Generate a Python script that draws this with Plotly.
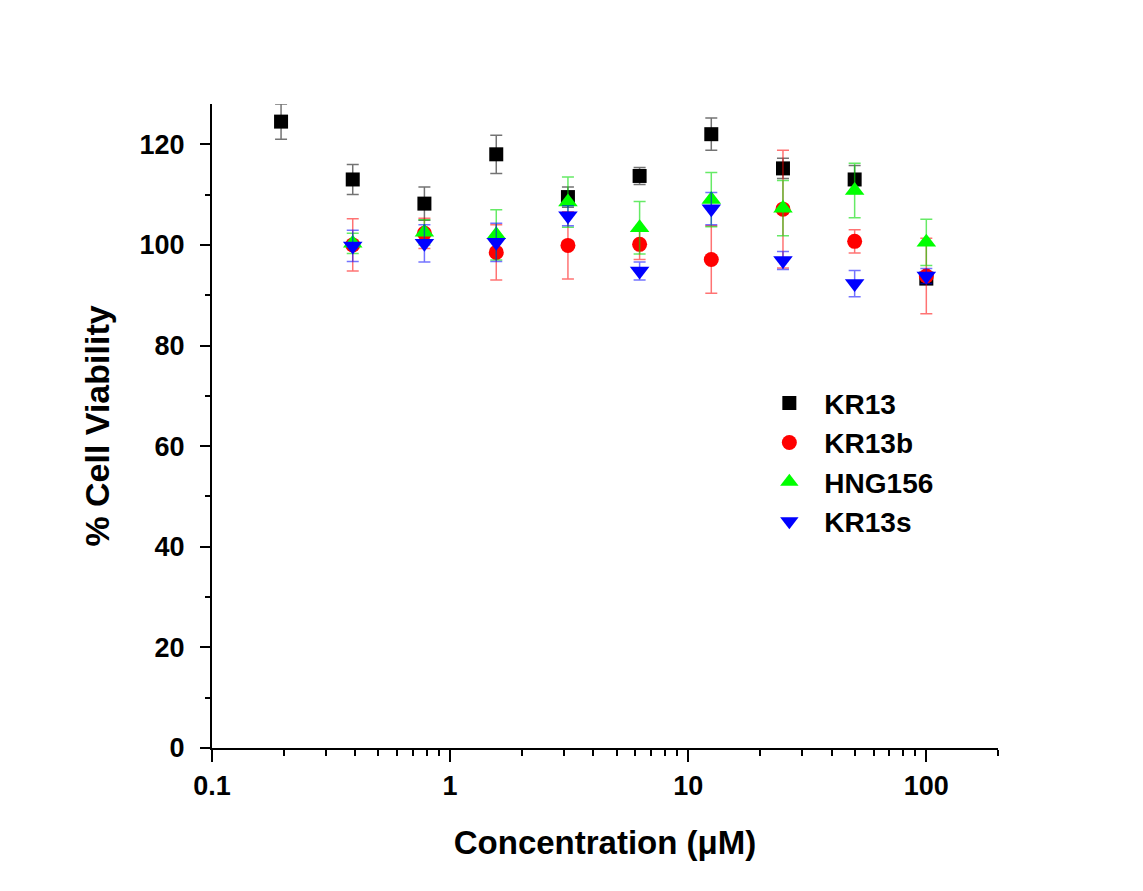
import plotly.graph_objects as go
import numpy as np

conc = [0.195, 0.39, 0.78, 1.5625, 3.125, 6.25, 12.5, 25, 50, 100]

kr13 = [124.5, 113.0, 108.2, 118.0, 109.5, 113.7, 122.0, 115.2, 113.0, 93.3]
kr13_err = [3.5, 3.0, 3.3, 3.8, 2.0, 1.7, 3.2, 2.0, 2.8, 1.0]

kr13b_x = conc[1:]
kr13b = [100.0, 102.3, 98.5, 99.9, 100.1, 97.1, 107.1, 100.7, 93.8]
kr13b_err = [5.2, 3.0, 5.5, 6.7, 3.0, 6.7, 11.7, 2.3, 7.5]

hng156_x = conc[1:]
hng156 = [100.3, 102.5, 102.0, 108.5, 103.4, 109.0, 107.3, 110.8, 100.5]
hng156_err = [2.0, 2.5, 5.0, 5.0, 5.2, 5.4, 5.5, 5.4, 4.6]

kr13s_x = conc[1:]
kr13s = [99.8, 100.3, 100.5, 105.8, 94.8, 107.2, 96.9, 92.3, 93.8]
kr13s_err = [3.1, 3.7, 3.8, 2.0, 1.8, 3.2, 1.8, 2.6, 1.5]

y_ticks = [0, 20, 40, 60, 80, 100, 120]
x_ticks = [0.1, 1, 10, 100]
x_ticklabels = ["0.1", "1", "10", "100"]

FONT = "Arial, Liberation Sans, sans-serif"

series = [
    ("KR13", conc, kr13, kr13_err, "square", "#000000", "rgba(0,0,0,0.55)", 14),
    ("KR13b", kr13b_x, kr13b, kr13b_err, "circle", "#ff0000", "rgba(255,0,0,0.55)", 15),
    ("HNG156", hng156_x, hng156, hng156_err, "triangle-up", "#00ff00", "rgba(0,220,0,0.6)", 17),
    ("KR13s", kr13s_x, kr13s, kr13s_err, "triangle-down", "#0000ff", "rgba(0,0,255,0.55)", 17),
]

fig = go.Figure()
for name, x, y, e, sym, col, ecol, sz in series:
    fig.add_trace(go.Scatter(
        x=x, y=y, mode="markers", name=name,
        marker=dict(symbol=sym, color=col, size=sz, line=dict(width=0)),
        error_y=dict(type="data", array=e, visible=True, color=ecol, thickness=1.5, width=6),
    ))

minor_x = []
for d in [0.1, 1, 10, 100]:
    for k in range(2, 10):
        v = d * k
        if v <= 200:
            minor_x.append(v)

fig.update_layout(
    width=1143, height=891,
    margin=dict(l=212, r=145, t=104, b=143),
    paper_bgcolor="white", plot_bgcolor="white",
    font=dict(family=FONT, color="black"),
    showlegend=True,
    legend=dict(x=0.69, y=0.574, xanchor="left", yanchor="top",
                font=dict(size=28, family=FONT, color="black", weight="bold"),
                bgcolor="rgba(0,0,0,0)", itemsizing="trace", itemwidth=60,
                tracegroupgap=0),
    xaxis=dict(
        type="log", range=[np.log10(0.1), np.log10(200)],
        showgrid=False, zeroline=False,
        showline=True, linecolor="black", linewidth=2,
        ticks="outside", ticklen=12, tickwidth=2, tickcolor="black",
        tickvals=x_ticks, ticktext=x_ticklabels,
        tickfont=dict(size=27, family=FONT, weight="bold"),
        ticklabelstandoff=1,
        minor=dict(ticks="outside", ticklen=6, tickwidth=2, tickcolor="black", tickvals=minor_x, showgrid=False),
        title=dict(text="Concentration (μM)", font=dict(size=33, family=FONT, weight="bold"), standoff=30),
    ),
    yaxis=dict(
        range=[0, 128],
        showgrid=False, zeroline=False,
        showline=True, linecolor="black", linewidth=2,
        ticks="outside", ticklen=10, tickwidth=2, tickcolor="black",
        tickvals=y_ticks,
        tickfont=dict(size=27, family=FONT, weight="bold"),
        ticklabelstandoff=10,
        minor=dict(ticks="outside", ticklen=5, tickwidth=2, tickcolor="black", dtick=10, showgrid=False),
        title=dict(text="% Cell Viability", font=dict(size=34, family=FONT, weight="bold"), standoff=20),
    ),
)

fig.write_html("out.html")
